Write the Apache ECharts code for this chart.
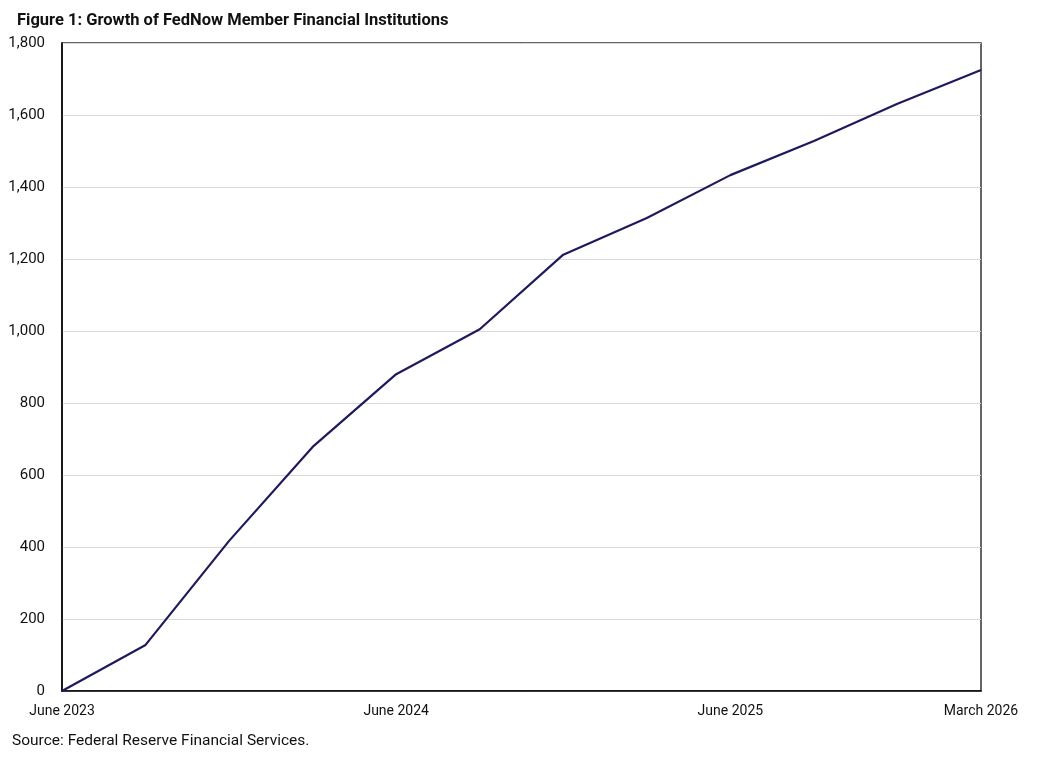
<!DOCTYPE html>
<html>
<head>
<meta charset="utf-8">
<script src="https://cdn.jsdelivr.net/npm/echarts@6/dist/echarts.min.js"></script>
<style>
  html, body { margin: 0; padding: 0; background: #fff; }
  #chart { width: 1044px; height: 758px; }
</style>
</head>
<body>
<div id="chart"></div>
<script>
// quarterly, June 2023 .. March 2026
var quarters = ['June 2023', 'September 2023', 'December 2023', 'March 2024',
    'June 2024', 'September 2024', 'December 2024', 'March 2025',
    'June 2025', 'September 2025', 'December 2025', 'March 2026'];
var members = [0, 128, 417, 678, 880, 1005, 1212, 1314, 1433, 1528, 1631, 1725];
var shownLabels = ['June 2023', 'June 2024', 'June 2025', 'March 2026'];

var fontName = 'Roboto, "Noto Sans", sans-serif';

var myChart = echarts.init(document.getElementById('chart'));
myChart.setOption({
    animation: false,
    title: {
        text: 'Figure 1: Growth of FedNow Member Financial Institutions',
        left: 12,
        top: 7,
        textStyle: { fontFamily: fontName, fontWeight: 'bold', fontSize: 16.5, color: '#111' }
    },
    graphic: [
        {
            type: 'text',
            left: 12,
            top: 733,
            style: { text: 'Source: Federal Reserve Financial Services.', font: '15.5px ' + fontName, fill: '#111' }
        }
    ],
    grid: {
        left: 62,
        right: 63,
        top: 43,
        bottom: 67,
        show: true,
        borderColor: '#333',
        borderWidth: 1.5,
        backgroundColor: '#fff'
    },
    xAxis: {
        type: 'category',
        data: quarters,
        boundaryGap: false,
        axisLine: { lineStyle: { color: '#000', width: 1.5 } },
        axisTick: { show: false },
        splitLine: { show: false },
        axisLabel: {
            interval: 0,
            margin: 13,
            fontFamily: fontName,
            fontSize: 14,
            color: '#111',
            formatter: function (v) {
                return shownLabels.indexOf(v) >= 0 ? v : '';
            }
        }
    },
    yAxis: {
        type: 'value',
        min: 0,
        max: 1800,
        interval: 200,
        axisLine: { show: true, lineStyle: { color: '#000', width: 1.5 } },
        axisTick: { show: false },
        splitLine: { lineStyle: { color: '#d9d9d9', width: 1 } },
        axisLabel: {
            margin: 17,
            fontFamily: fontName,
            fontSize: 15,
            color: '#111',
            formatter: function (v) {
                return v.toLocaleString('en-US');
            }
        }
    },
    series: [
        {
            name: 'Members',
            type: 'line',
            data: members,
            symbol: 'none',
            lineStyle: { color: '#1f1a5c', width: 2.2 }
        }
    ]
});
</script>
</body>
</html>
